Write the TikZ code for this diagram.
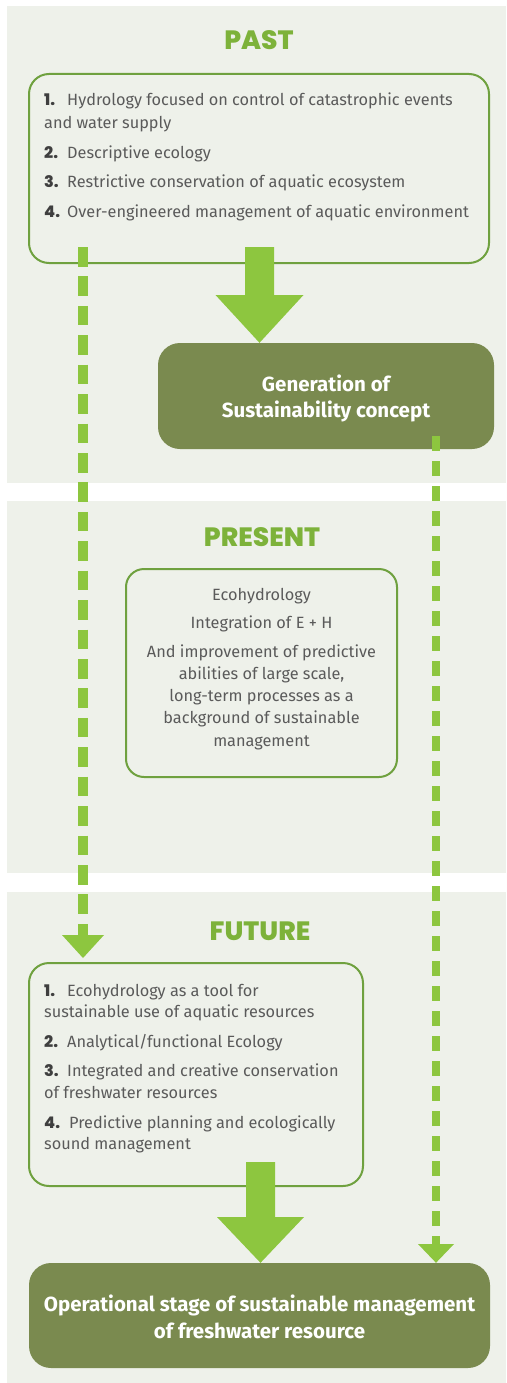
\documentclass[tikz,border=0pt]{standalone}
\usepackage{fontspec}
\setmainfont{Fira Sans}[BoldFont={Fira Sans Bold}]
\newfontfamily\titlefont{Poppins}[BoldFont={Poppins ExtraBold}]
\definecolor{panelbg}{HTML}{EEF1EA}
\definecolor{boxline}{HTML}{6FA13F}
\definecolor{darkolive}{HTML}{7A8A4F}
\definecolor{arrowgreen}{HTML}{8DC63F}
\definecolor{titlegreen}{HTML}{7DB23A}
\definecolor{bodygray}{HTML}{5A5A5A}
\definecolor{numgray}{HTML}{3F3F3F}
\begin{document}
\begin{tikzpicture}[x=1pt,y=-1pt,
  panel/.style={fill=panelbg,draw=none},
  outlinebox/.style={draw=boxline,line width=2pt,rounded corners=20pt,inner sep=0pt},
  solidbox/.style={fill=darkolive,draw=none,rounded corners=22pt,inner sep=0pt},
  titletext/.style={font=\titlefont\bfseries\fontsize{26.5}{26}\selectfont,text=titlegreen,anchor=base,inner sep=0pt},
  bodyl/.style={font=\fontsize{16.3}{18}\selectfont,text=bodygray,anchor=base west,inner sep=0pt},
  bodyc/.style={font=\fontsize{16.3}{18}\selectfont,text=bodygray,anchor=base,inner sep=0pt},
  numtext/.style={font=\titlefont\bfseries\fontsize{16}{18}\selectfont,text=numgray,anchor=base west,inner sep=0pt},
  whitetext/.style={font=\bfseries\fontsize{20.5}{22}\selectfont,text=white,anchor=base,inner sep=0pt},
  fatarrow/.style={fill=arrowgreen,draw=none},
  dashleft/.style={draw=arrowgreen,line width=10pt,dash pattern=on 19.5pt off 9.93pt},
  dashright/.style={draw=arrowgreen,line width=8pt,dash pattern=on 15pt off 10pt},
]
\useasboundingbox (0,0) rectangle (506,1383);
\fill[white] (0,0) rectangle (506,1383);
% panels
\fill[panel] (7,6) rectangle (506,483);
\fill[panel] (7,501) rectangle (506,873);
\fill[panel] (7,892) rectangle (506,1383);

% titles
\node[titletext] (tpast) at (259,50) {PAST};
\node[titletext] (tpresent) at (262,546) {PRESENT};
\node[titletext] (tfuture) at (260,940) {FUTURE};

% boxes
\node[outlinebox,minimum width=460pt,minimum height=189pt] (past) at (259,168.5) {};
\node[solidbox,minimum width=336pt,minimum height=106pt] (gen) at (326,396) {};
\node[outlinebox,minimum width=271pt,minimum height=208pt,rounded corners=18pt] (present) at (261.5,673) {};
\node[outlinebox,minimum width=334pt,minimum height=223pt] (future) at (196,1074.5) {};
\node[solidbox,minimum width=461pt,minimum height=105pt] (final) at (259.5,1315.5) {};

% past text
\node[numtext] (p1n) at (44,106) {1.};
\node[bodyl] (p1) at (67,106) {Hydrology focused on control of catastrophic events};
\node[bodyl] (p1b) at (44,129) {and water supply};
\node[numtext] (p2n) at (44,159) {2.};
\node[bodyl] (p2) at (67,159) {Descriptive ecology};
\node[numtext] (p3n) at (44,187) {3.};
\node[bodyl] (p3) at (67,187) {Restrictive conservation of aquatic ecosystem};
\node[numtext] (p4n) at (44,217) {4.};
\node[bodyl] (p4) at (67,217) {Over-engineered management of aquatic environment};

% generation text
\node[whitetext] (g1) at (326,391) {Generation of};
\node[whitetext] (g2) at (326,417) {Sustainability concept};

% present text
\node[bodyc] (r1) at (261.5,600) {Ecohydrology};
\node[bodyc] (r2) at (261.5,628) {Integration of E + H};
\node[bodyc] (r3) at (261.5,657) {And improvement of predictive};
\node[bodyc] (r4) at (261.5,679.3) {abilities of large scale,};
\node[bodyc] (r5) at (261.5,701.6) {long-term processes as a};
\node[bodyc] (r6) at (261.5,723.9) {background of sustainable};
\node[bodyc] (r7) at (261.5,746.2) {management};

% future text
\node[numtext] (f1n) at (44,996) {1.};
\node[bodyl] (f1) at (67,996) {Ecohydrology as a tool for};
\node[bodyl] (f1b) at (44,1017) {sustainable use of aquatic resources};
\node[numtext] (f2n) at (44,1047) {2.};
\node[bodyl] (f2) at (67,1047) {Analytical/functional Ecology};
\node[numtext] (f3n) at (44,1076) {3.};
\node[bodyl] (f3) at (67,1076) {Integrated and creative conservation};
\node[bodyl] (f3b) at (44,1098) {of freshwater resources};
\node[numtext] (f4n) at (44,1128) {4.};
\node[bodyl] (f4) at (69,1128) {Predictive planning and ecologically};
\node[bodyl] (f4b) at (44,1149) {sound management};

% final text
\node[whitetext] (o1) at (259.5,1311) {Operational stage of sustainable management};
\node[whitetext] (o2) at (259.5,1338) {of freshwater resource};

% connector coordinates
\coordinate (a1s) at (259.5,247);
\coordinate (a2s) at (260.5,1162);
\coordinate (d1s) at (83,247);
\coordinate (d1e) at (83,935);
\coordinate (d2s) at (436,436);
\coordinate (d2e) at (436,1244);

% fat arrow past -> generation
\fill[fatarrow] (a1s) +(-44,48) -- +(-14.5,48) -- +(-14.5,0) -- +(14.5,0)
  -- +(14.5,48) -- +(44,48) -- (a1s |- gen.north) -- cycle;
% fat arrow future -> final
\fill[fatarrow] (a2s) +(-43.5,55) -- +(-14.5,55) -- +(-14.5,0) -- +(14.5,0)
  -- +(14.5,55) -- +(43.5,55) -- (a2s |- final.north) -- cycle;

% dashed past -> future
\draw[dashleft] (d1s) -- (d1e);
\fill[fatarrow] (d1e) +(-21,0) -- +(21,0) -- +(0,23) -- cycle;
% dashed generation -> final
\draw[dashright] (d2s) -- (d2e);
\fill[fatarrow] (d2e) +(-18,0) -- +(18,0) -- (d2e |- final.north) -- cycle;
\end{tikzpicture}
\end{document}
